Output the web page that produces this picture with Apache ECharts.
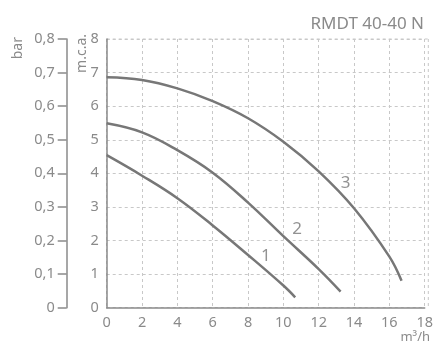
<!DOCTYPE html>
<html><head><meta charset="utf-8">
<script src="https://cdn.jsdelivr.net/npm/echarts@6/dist/echarts.min.js"></script>
<style>html,body{margin:0;padding:0;background:#fff}#c{width:436px;height:343px}</style>
</head><body><div id="c"></div>
<script>
const title = 'RMDT 40-40 N';
const curve1 = [[0,4.54],[2,3.93],[4,3.26],[6,2.45],[8,1.57],[10,0.66],[10.67,0.31]];
const curve2 = [[0,5.49],[2,5.22],[4,4.69],[6,4.02],[8,3.13],[10,2.13],[12,1.15],[13.24,0.48]];
const curve3 = [[0,6.86],[2,6.78],[4,6.53],[6,6.15],[8,5.64],[10,4.94],[12,4.06],[14,2.96],[16,1.52],[16.69,0.8]];
const curveLabels = [['1',9.01,1.54],['2',10.78,2.33],['3',13.52,3.7]];

const gray = '#8a8a8a';
const lineColor = '#777777';
const font = 'Noto Sans';
const chart = echarts.init(document.getElementById('c'));
const mkLine = d => ({type:'line', data:d, smooth:0.4, showSymbol:false, symbol:'none',
  lineStyle:{color:lineColor, width:2.5}, xAxisIndex:0, yAxisIndex:0, silent:true, z:3});
chart.setOption({
  animation:false,
  grid:{left:106.7, right:436-428.3, top:39, bottom:343-307.7, containLabel:false},
  title:{text:title, right:7, top:11, textStyle:{color:gray, fontSize:17, fontWeight:'normal', fontFamily:font}},
  xAxis:[{type:'value', min:0, max:18, interval:2,
    axisLine:{show:true, lineStyle:{color:gray, width:1.5}},
    axisTick:{show:false},
    axisLabel:{color:gray, fontSize:14.5, fontFamily:font, margin:8},
    splitLine:{show:true, lineStyle:{color:'#c8c8c8', type:[3,3], width:1}}}],
  yAxis:[{type:'value', min:0, max:8, interval:1, position:'left',
    axisLine:{show:true, lineStyle:{color:gray, width:1.5}},
    axisTick:{show:false},
    axisLabel:{color:gray, fontSize:14.5, fontFamily:font, margin:8},
    splitLine:{show:true, lineStyle:{color:'#c8c8c8', type:[3,3], width:1}}},
   {type:'value', min:0, max:0.8, interval:0.1, position:'left', offset:40,
    axisLine:{show:true, lineStyle:{color:gray, width:1.5}},
    axisTick:{show:true, length:9, inside:false, lineStyle:{color:gray, width:1.5}},
    axisLabel:{color:gray, fontSize:14.5, fontFamily:font, margin:12,
      formatter:v=>{const r=Math.round(v*10)/10; return r===0?'0':r.toFixed(1).replace('.',',');}},
    splitLine:{show:false}}],
  graphic:[
    {type:'text', left:11, top:37, rotation:Math.PI/2, style:{text:'bar', fill:gray, font:'14px "Noto Sans"'}},
    {type:'line', shape:{x1:106.7,y1:39,x2:428.3,y2:39}, style:{stroke:'#c8c8c8', lineDash:[3,3]}},
    {type:'line', shape:{x1:428.3,y1:39,x2:428.3,y2:307.7}, style:{stroke:'#c8c8c8', lineDash:[3,3]}},
    {type:'text', x:430, y:337, style:{text:'m³/h', fill:gray, font:'13px "Noto Sans"', textAlign:'right', textVerticalAlign:'middle'}},
    {type:'text', left:75, top:34, rotation:Math.PI/2, style:{text:'m.c.a.', fill:gray, font:'14px "Noto Sans"'}}
  ],
  series:[mkLine(curve1), mkLine(curve2), mkLine(curve3),
    {type:'scatter', data:curveLabels.map(l=>({value:[l[1],l[2]], name:l[0]})), symbolSize:0,
     label:{show:true, position:'inside', formatter:p=>p.name, color:lineColor, fontSize:17, fontFamily:font}}]
});
</script></body></html>
